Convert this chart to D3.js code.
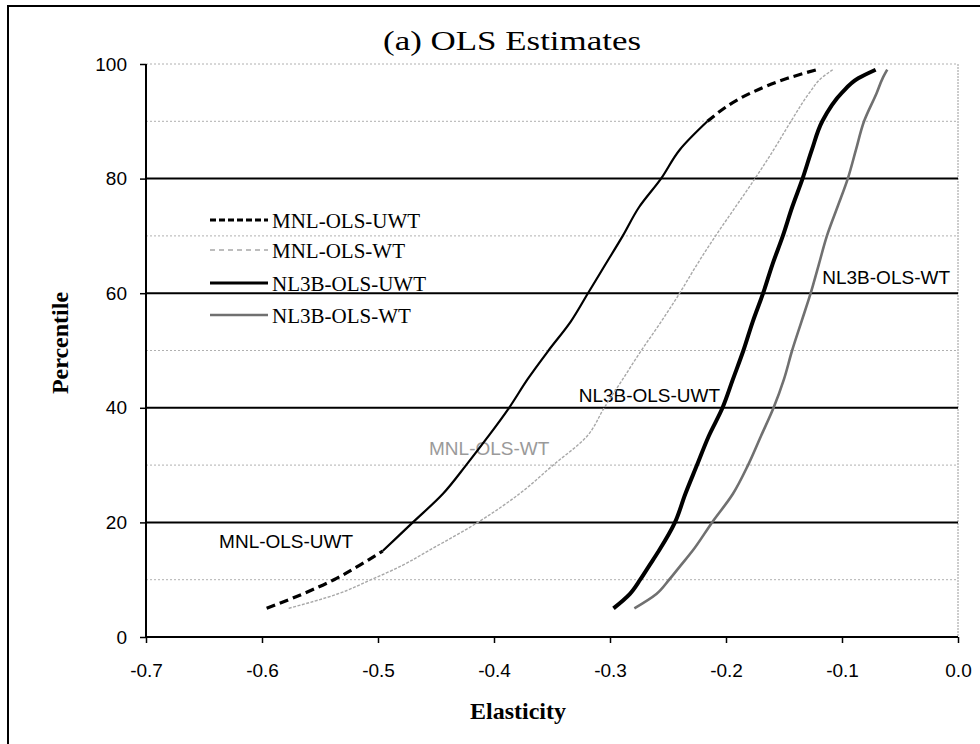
<!DOCTYPE html>
<head>
  <title>OLS Estimates</title>
  <meta charset="utf-8">
  <script type="text/javascript" src="https://cdnjs.cloudflare.com/ajax/libs/d3/7.8.5/d3.min.js"></script>
  <style>
body { margin: 0; background: #fff; }
  </style>
</head>
<body>
</body>
<script>

// percentiles shared by every curve
var pct = [5, 7.5, 10, 12.5, 15, 20, 25, 30, 35, 40, 45, 50, 55, 60, 65, 70, 75, 80, 85, 90, 95, 97.5, 99]

// elasticity at each percentile
var mnlUwt  = [-0.596, -0.565, -0.538, -0.516, -0.496, -0.470, -0.444, -0.424, -0.405, -0.387, -0.371, -0.353, -0.334, -0.319, -0.304, -0.289, -0.275, -0.256, -0.240, -0.216, -0.178, -0.147, -0.122]
var mnlWt   = [-0.577, -0.535, -0.506, -0.479, -0.457, -0.414, -0.378, -0.349, -0.320, -0.305, -0.289, -0.273, -0.256, -0.240, -0.225, -0.209, -0.192, -0.175, -0.159, -0.144, -0.128, -0.118, -0.108]
var nl3bUwt = [-0.297, -0.283, -0.274, -0.266, -0.258, -0.244, -0.235, -0.225, -0.215, -0.203, -0.194, -0.185, -0.177, -0.168, -0.160, -0.151, -0.143, -0.134, -0.126, -0.117, -0.100, -0.086, -0.071]
var nl3bWt  = [-0.279, -0.260, -0.249, -0.239, -0.229, -0.212, -0.194, -0.181, -0.170, -0.159, -0.150, -0.143, -0.135, -0.127, -0.120, -0.113, -0.104, -0.095, -0.088, -0.081, -0.070, -0.065, -0.061]

var seriesNames = ["MNL-OLS-UWT", "MNL-OLS-WT", "NL3B-OLS-UWT", "NL3B-OLS-WT"]

var xTicks = [-0.7, -0.6, -0.5, -0.4, -0.3, -0.2, -0.1, 0.0]
var yTicks = [0, 20, 40, 60, 80, 100]
var majorGrid = [20, 40, 60, 80]
var minorGrid = [10, 30, 50, 70, 90, 100]

// label spots on the curves: [elasticity, percentile]
var curveLabels = [
  {text: "MNL-OLS-UWT", at: [-0.637, 15.5], color: "#000"},
  {text: "MNL-OLS-WT", at: [-0.456, 31.8], color: "#9a9a9a"},
  {text: "NL3B-OLS-UWT", at: [-0.327, 41.0], color: "#000"},
  {text: "NL3B-OLS-WT", at: [-0.117, 61.6], color: "#000"}
]

var styles = [
  {color: "#000", width: 3, dash: "9,5"},
  {color: "#a8a8a8", width: 1.4, dash: "3,1.5"},
  {color: "#000", width: 4, dash: null},
  {color: "#707070", width: 2.6, dash: null}
]
var allSeries = [mnlUwt, mnlWt, nl3bUwt, nl3bWt]

var W = 980, H = 744
var margin = {top: 64, left: 146}
var width = 958 - 146, height = 637 - 64

var svg = d3.select("body").append("svg").attr("width", W).attr("height", H)

// outer frame (runs off the picture to the right and bottom)
svg.append("rect").attr("x", 8).attr("y", 6).attr("width", 1000).attr("height", 800)
  .attr("fill", "none").attr("stroke", "#000").attr("stroke-width", 2)

svg.append("text").attr("x", 512).attr("y", 50).attr("text-anchor", "middle")
  .style("font-family", "Liberation Serif, Times New Roman, serif").style("font-size", "28px")
  .attr("textLength", 258).attr("lengthAdjust", "spacingAndGlyphs")
  .text("(a)  OLS Estimates")

var plot = svg.append("g").attr("transform", "translate(" + margin.left + "," + margin.top + ")")

var xScale = d3.scaleLinear().domain([-0.7, 0]).range([0, width])
var yScale = d3.scaleLinear().domain([0, 100]).range([height, 0])

// grid
plot.selectAll(".minor").data(minorGrid).enter().append("line").attr("class", "minor")
  .attr("x1", 0).attr("x2", width).attr("y1", d => yScale(d)).attr("y2", d => yScale(d))
  .attr("stroke", "#b0b0b0").attr("stroke-width", 1).attr("stroke-dasharray", "2,2")
plot.append("line").attr("x1", width).attr("x2", width).attr("y1", 0).attr("y2", height)
  .attr("stroke", "#9a9a9a").attr("stroke-width", 1).attr("stroke-dasharray", "2,1")
plot.selectAll(".major").data(majorGrid).enter().append("line").attr("class", "major")
  .attr("x1", 0).attr("x2", width).attr("y1", d => yScale(d)).attr("y2", d => yScale(d))
  .attr("stroke", "#000").attr("stroke-width", 2)

// curve labels (under the curves)
plot.selectAll(".clab").data(curveLabels).enter().append("text").attr("class", "clab")
  .attr("x", d => xScale(d.at[0])).attr("y", d => yScale(d.at[1]))
  .style("font-family", "Liberation Sans, Arial, sans-serif").style("font-size", "19px")
  .attr("fill", d => d.color).text(d => d.text)

var line = d3.line().x(d => xScale(d[0])).y(d => yScale(d[1])).curve(d3.curveMonotoneY)

for (var s = 0; s < allSeries.length; s++) {
  var pts = allSeries[s].map((v, i) => [v, pct[i]])
  if (s == 0) {
    // dashed tails, solid middle
    var lowTail = pts.filter(d => d[1] <= 15)
    var mid = pts.filter(d => d[1] >= 15 && d[1] <= 90)
    var topTail = pts.filter(d => d[1] >= 90)
    plot.append("path").datum(lowTail).attr("d", line).attr("fill", "none")
      .attr("stroke", "#000").attr("stroke-width", 3.2).attr("stroke-dasharray", "9,5")
    plot.append("path").datum(mid).attr("d", line).attr("fill", "none")
      .attr("stroke", "#000").attr("stroke-width", 2.2)
    plot.append("path").datum(topTail).attr("d", line).attr("fill", "none")
      .attr("stroke", "#000").attr("stroke-width", 3.2).attr("stroke-dasharray", "9,5")
  } else {
    plot.append("path").datum(pts).attr("d", line).attr("fill", "none")
      .attr("stroke", styles[s].color).attr("stroke-width", styles[s].width)
      .attr("stroke-dasharray", styles[s].dash)
  }
}

// axes
var xAxis = d3.axisBottom(xScale).tickValues(xTicks).tickSize(6).tickFormat(d => d.toFixed(1))
var yAxis = d3.axisLeft(yScale).tickValues(yTicks).tickSize(6).tickFormat(d3.format("d"))

var gx = plot.append("g").attr("transform", "translate(0," + height + ")").call(xAxis)
var gy = plot.append("g").call(yAxis)
;[gx, gy].forEach(function(g) {
  g.select(".domain").attr("stroke-width", 2).attr("d", g === gx ? "M0,0H" + width : "M0," + height + "V0")
  g.selectAll(".tick line").attr("stroke-width", 1.5)
  g.selectAll(".tick text").style("font-family", "Liberation Sans, Arial, sans-serif")
    .style("font-size", "19px").attr("fill", "#000")
})
gx.selectAll(".tick text").attr("dy", "0").attr("y", 40)
gy.selectAll(".tick text").attr("x", -19)

svg.append("text").attr("x", 518).attr("y", 719).attr("text-anchor", "middle")
  .style("font-family", "Liberation Serif, Times New Roman, serif").style("font-size", "24px")
  .style("font-weight", "bold").text("Elasticity")
svg.append("text").attr("transform", "translate(68,343) rotate(-90)").attr("text-anchor", "middle")
  .style("font-family", "Liberation Serif, Times New Roman, serif").style("font-size", "24px")
  .style("font-weight", "bold").text("Percentile")

// legend
var legend = svg.append("g").attr("transform", "translate(210,220)")
var rowY = [0, 30, 63, 95]
for (var r = 0; r < seriesNames.length; r++) {
  legend.append("line").attr("x1", 0).attr("x2", 58).attr("y1", rowY[r]).attr("y2", rowY[r])
    .attr("stroke", styles[r].color).attr("stroke-width", r == 1 ? 1.6 : styles[r].width == 4 ? 3 : styles[r].width)
    .attr("stroke-dasharray", r == 0 ? "6,3" : r == 1 ? "5,4" : null)
  legend.append("text").attr("x", 62).attr("y", rowY[r] + 8)
    .style("font-family", "Liberation Serif, Times New Roman, serif").style("font-size", "21px")
    .text(seriesNames[r])
}

</script>
